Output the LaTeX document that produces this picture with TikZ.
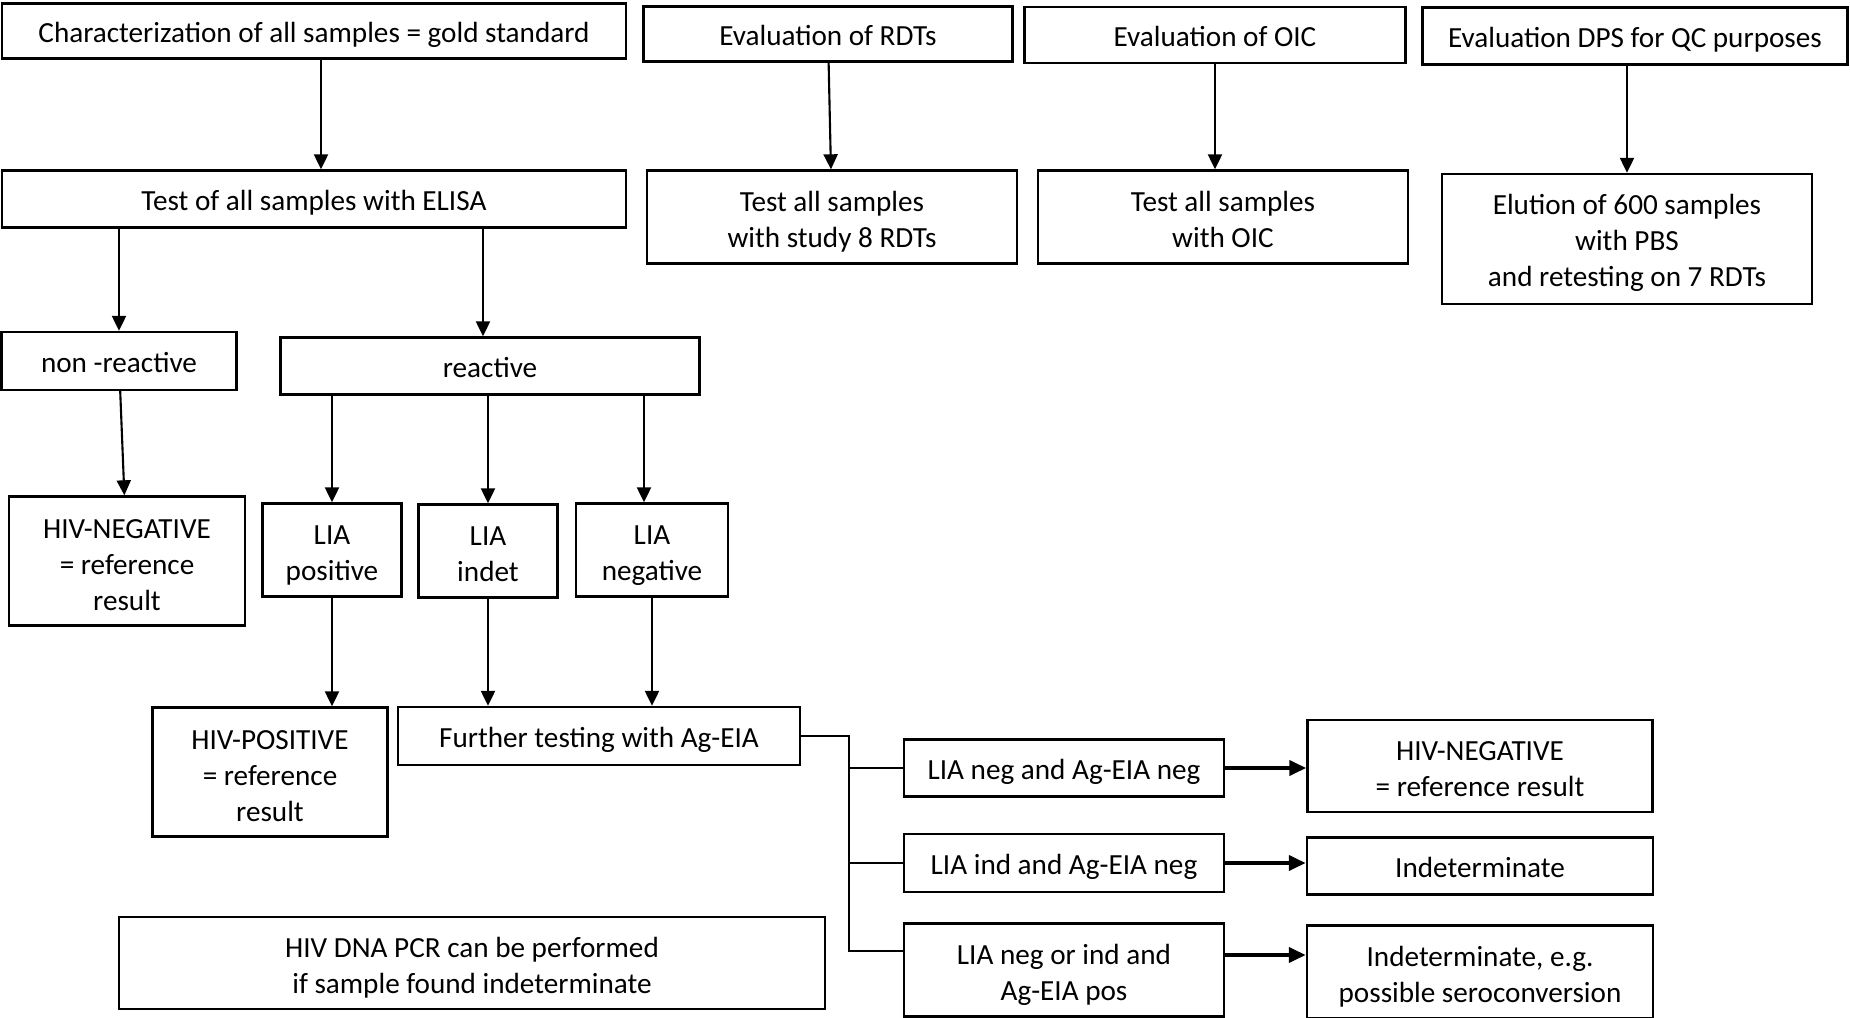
\documentclass[tikz,border=0pt]{standalone}
\usepackage{fontspec}
\setmainfont{Carlito}
\usepackage{tikz}
\usetikzlibrary{arrows.meta, positioning, calc}

\begin{document}
\begin{tikzpicture}[x=0.01cm, y=-0.01cm,
    box/.style={draw, rectangle, line width=0.65pt, inner sep=0pt, align=center, font=\fontsize{8.3}{10.2}\selectfont,
        text height=6.8pt, text depth=0pt},
    two/.style={text height=17.4pt},
    three/.style={text height=28pt},
    arrow/.style={line width=0.6pt, -{Triangle[length=0.15cm, width=0.14cm]}},
    thickarrow/.style={line width=1.1pt, -{Triangle[length=0.17cm, width=0.15cm]}},
    branch/.style={line width=0.5pt}]
    \useasboundingbox (0,0) rectangle (1850,1018);
    \node[box, minimum width=6.24cm, minimum height=0.55cm] (char) at (314,31) {Characterization of all samples = gold standard};
    \node[box, minimum width=3.69cm, minimum height=0.55cm] (rdteval) at (828,34) {Evaluation of RDTs};
    \node[box, minimum width=3.81cm, minimum height=0.56cm] (oiceval) at (1215,35) {Evaluation of OIC};
    \node[box, minimum width=4.25cm, minimum height=0.57cm] (dpseval) at (1635,36) {Evaluation DPS for QC purposes};
    \node[box, minimum width=6.24cm, minimum height=0.57cm] (elisa) at (314,199) {Test of all samples with ELISA};
    \node[box, two, minimum width=3.70cm, minimum height=0.93cm] (rdttest) at (832,217) {Test all samples\\with study 8 RDTs};
    \node[box, two, minimum width=3.70cm, minimum height=0.93cm] (oictest) at (1223,217) {Test all samples\\with OIC};
    \node[box, three, text height=26.8pt, minimum width=3.70cm, minimum height=1.30cm] (elution) at (1627,239) {Elution of 600 samples\\with PBS\\and retesting on 7 RDTs};
    \node[box, minimum width=2.35cm, minimum height=0.58cm] (nonreact) at (119,361) {non -reactive};
    \node[box, minimum width=4.19cm, minimum height=0.57cm] (react) at (490,366) {reactive};
    \node[box, three, minimum width=2.36cm, minimum height=1.29cm] (hivneg) at (127,561) {HIV-NEGATIVE\\= reference\\result};
    \node[box, two, minimum width=1.39cm, minimum height=0.93cm] (liapos) at (332,550) {LIA\\positive};
    \node[box, two, minimum width=1.39cm, minimum height=0.93cm] (liaind) at (488,551) {LIA\\indet};
    \node[box, two, minimum width=1.52cm, minimum height=0.93cm] (lianeg) at (652,550) {LIA\\negative};
    \node[box, three, minimum width=2.35cm, minimum height=1.29cm] (hivpos) at (270,772) {HIV-POSITIVE\\= reference\\result};
    \node[box, minimum width=4.02cm, minimum height=0.58cm] (further) at (599,736) {Further testing with Ag-EIA};
    \node[box, two, minimum width=7.05cm, minimum height=0.92cm] (pcr) at (472,963) {HIV DNA PCR can be performed\\if sample found indeterminate};
    \node[box, minimum width=3.20cm, minimum height=0.57cm] (negneg) at (1064,768) {LIA neg and Ag-EIA neg};
    \node[box, minimum width=3.20cm, minimum height=0.58cm] (indneg) at (1064,863) {LIA ind and Ag-EIA neg};
    \node[box, two, minimum width=3.20cm, minimum height=0.93cm] (negpos) at (1064,970) {LIA neg or ind and\\Ag-EIA pos};
    \node[box, two, minimum width=3.45cm, minimum height=0.92cm] (resneg) at (1480,766) {HIV-NEGATIVE\\= reference result};
    \node[box, minimum width=3.46cm, minimum height=0.57cm] (resind) at (1480,866) {Indeterminate};
    \node[box, two, minimum width=3.46cm, minimum height=0.93cm] (resconv) at (1480,972) {Indeterminate, e.g.\\possible seroconversion};
    \coordinate (split) at ($(further.east)+(48,0)$);

    \draw[arrow] ([xshift=0.07cm]char.south) -- ([xshift=0.07cm]elisa.north);
    \draw[arrow] (rdteval) -- (rdttest);
    \draw[arrow] (oiceval) -- (oiceval |- oictest.north);
    \draw[arrow] (dpseval.south -| elution.north) -- (elution.north);
    \draw[arrow] (elisa.south -| nonreact.north) -- (nonreact.north);
    \draw[arrow] ([xshift=-0.07cm]elisa.south -| react.north) -- ([xshift=-0.07cm]react.north);
    \draw[arrow] (nonreact) -- (hivneg);
    \draw[arrow] (react.south -| liapos.north) -- (liapos.north);
    \draw[arrow] (react.south -| liaind.north) -- (liaind.north);
    \draw[arrow] ([xshift=-0.08cm]react.south -| lianeg.north) -- ([xshift=-0.08cm]lianeg.north);
    \draw[arrow] (liapos.south) -- (liapos.south |- hivpos.north);
    \draw[arrow] (liaind.south) -- (liaind.south |- further.north);
    \draw[arrow] (lianeg.south) -- (lianeg.south |- further.north);
    \draw[branch] (further.east) -- (split) |- (negneg.west);
    \draw[branch] (split) |- (indneg.west);
    \draw[branch] (split) |- ([yshift=0.19cm]negpos.west);
    \draw[thickarrow] (negneg.east) -- (negneg.east -| resneg.west);
    \draw[thickarrow] (indneg.east) -- (indneg.east -| resind.west);
    \draw[thickarrow] ([yshift=0.15cm]negpos.east) -- ([yshift=0.15cm]negpos.east -| resconv.west);
\end{tikzpicture}
\end{document}
